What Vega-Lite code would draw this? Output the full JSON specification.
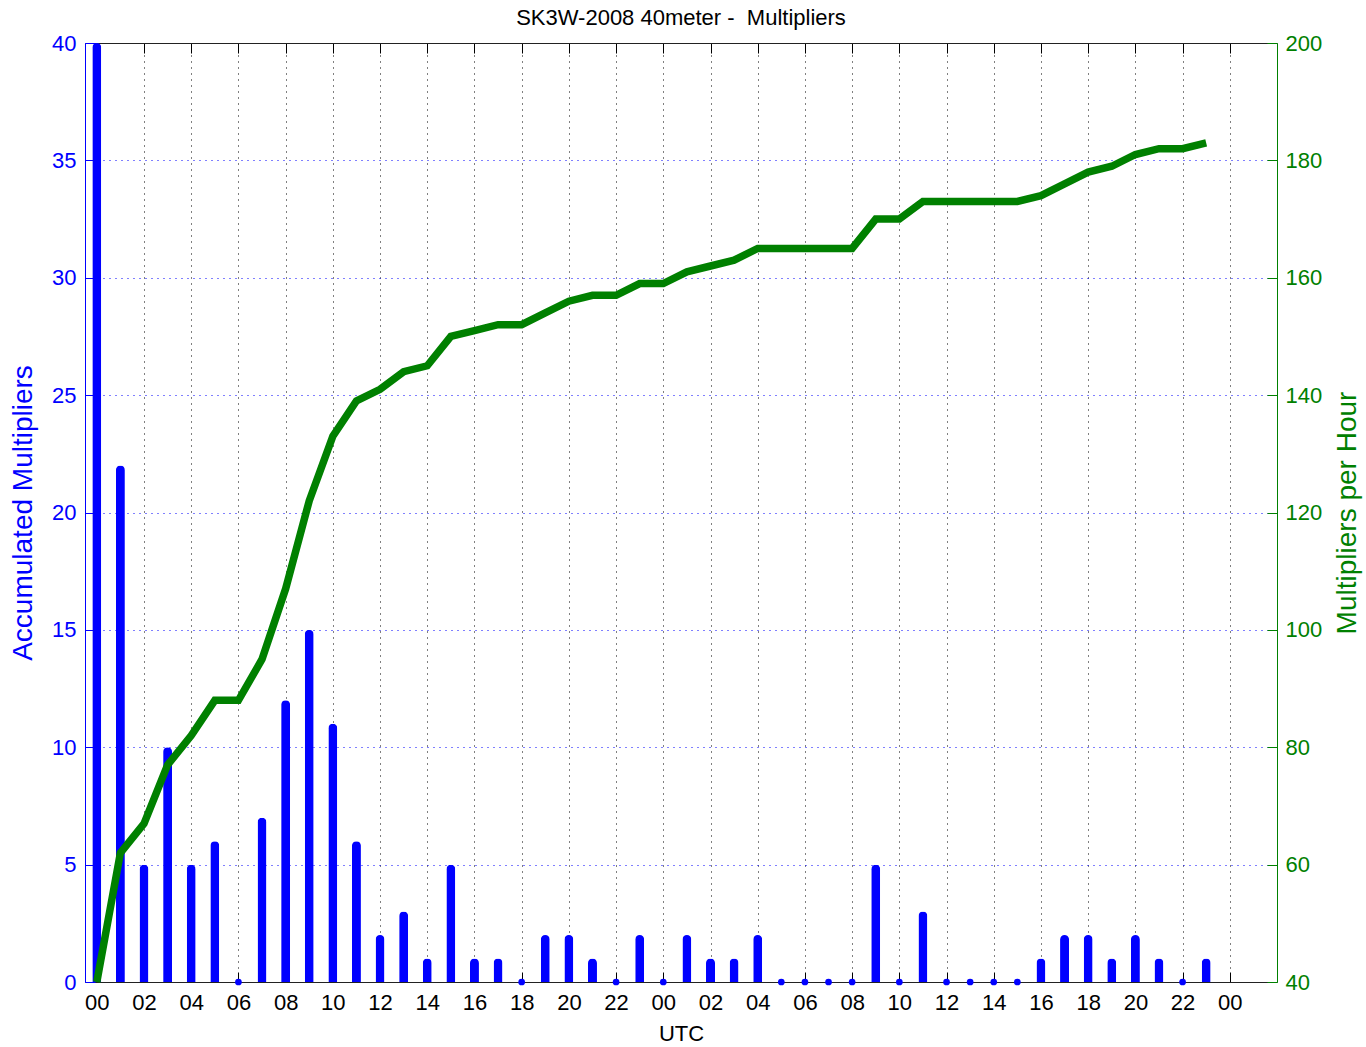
{
  "$schema": "https://vega.github.io/schema/vega-lite/v6.json",
  "width": 1192,
  "height": 939,
  "autosize": {"type": "none"},
  "padding": {"left": 85, "top": 43, "right": 89, "bottom": 65},
  "background": "white",
  "title": {"text": "SK3W-2008 40meter -\u00a0 Multipliers", "fontSize": 22, "font": "Liberation Sans", "fontWeight": "normal", "color": "black", "offset": 2, "anchor": "middle"},
  "config": {"view": {"stroke": null}, "font": "Liberation Sans"},
  "data": {"values": [
    {"h": 0, "m": 40, "acc": 40}, {"h": 1, "m": 22, "acc": 62}, {"h": 2, "m": 5, "acc": 67}, {"h": 3, "m": 10, "acc": 77},
    {"h": 4, "m": 5, "acc": 82}, {"h": 5, "m": 6, "acc": 88}, {"h": 6, "m": 0, "acc": 88}, {"h": 7, "m": 7, "acc": 95},
    {"h": 8, "m": 12, "acc": 107}, {"h": 9, "m": 15, "acc": 122}, {"h": 10, "m": 11, "acc": 133}, {"h": 11, "m": 6, "acc": 139},
    {"h": 12, "m": 2, "acc": 141}, {"h": 13, "m": 3, "acc": 144}, {"h": 14, "m": 1, "acc": 145}, {"h": 15, "m": 5, "acc": 150},
    {"h": 16, "m": 1, "acc": 151}, {"h": 17, "m": 1, "acc": 152}, {"h": 18, "m": 0, "acc": 152}, {"h": 19, "m": 2, "acc": 154},
    {"h": 20, "m": 2, "acc": 156}, {"h": 21, "m": 1, "acc": 157}, {"h": 22, "m": 0, "acc": 157}, {"h": 23, "m": 2, "acc": 159},
    {"h": 24, "m": 0, "acc": 159}, {"h": 25, "m": 2, "acc": 161}, {"h": 26, "m": 1, "acc": 162}, {"h": 27, "m": 1, "acc": 163},
    {"h": 28, "m": 2, "acc": 165}, {"h": 29, "m": 0, "acc": 165}, {"h": 30, "m": 0, "acc": 165}, {"h": 31, "m": 0, "acc": 165},
    {"h": 32, "m": 0, "acc": 165}, {"h": 33, "m": 5, "acc": 170}, {"h": 34, "m": 0, "acc": 170}, {"h": 35, "m": 3, "acc": 173},
    {"h": 36, "m": 0, "acc": 173}, {"h": 37, "m": 0, "acc": 173}, {"h": 38, "m": 0, "acc": 173}, {"h": 39, "m": 0, "acc": 173},
    {"h": 40, "m": 1, "acc": 174}, {"h": 41, "m": 2, "acc": 176}, {"h": 42, "m": 2, "acc": 178}, {"h": 43, "m": 1, "acc": 179},
    {"h": 44, "m": 2, "acc": 181}, {"h": 45, "m": 1, "acc": 182}, {"h": 46, "m": 0, "acc": 182}, {"h": 47, "m": 1, "acc": 183}
  ]},
  "layer": [
    {
      "layer": [
        {
          "mark": {"type": "bar", "width": 9, "color": "#0000ff", "cornerRadiusTopLeft": 4.5, "cornerRadiusTopRight": 4.5},
          "encoding": {
            "x": {"field": "h", "type": "quantitative", "scale": {"domain": [-0.5, 50], "nice": false, "zero": false, "padding": 0},
              "axis": {"orient": "bottom", "values": [0,2,4,6,8,10,12,14,16,18,20,22,24,26,28,30,32,34,36,38,40,42,44,46,48],
                "labelExpr": "(datum.value % 24 < 10 ? '0' : '') + (datum.value % 24)",
                "title": "UTC", "titleFontSize": 22, "titleFontWeight": "normal", "titleColor": "black", "titlePadding": 10,
                "labelFontSize": 22, "labelColor": "black", "labelPadding": 20, "labelFlush": false,
                "tickSize": -10, "tickColor": "black", "domainColor": "#222222",
                "grid": true, "gridColor": "black", "gridDash": [1, 5], "gridOpacity": 1}},
            "y": {"field": "m", "type": "quantitative", "scale": {"domain": [0, 40], "nice": false},
              "axis": {"orient": "left", "values": [0,5,10,15,20,25,30,35,40],
                "title": "Accumulated Multipliers", "titleFontSize": 28, "titleFontWeight": "normal", "titleColor": "#0000ff", "titlePadding": 14,
                "labelFontSize": 22, "labelColor": "#0000ff", "labelPadding": 19, "labelFlush": false,
                "tickSize": -10, "tickColor": "#0000ff", "domainColor": "#0000ff",
                "grid": true, "gridColor": "#0000ff", "gridDash": [1, 5], "gridOpacity": 1}}
          }
        },
        {
          "transform": [{"filter": "datum.m == 0"}],
          "mark": {"type": "point", "filled": true, "size": 45, "color": "#0000ff", "opacity": 1},
          "encoding": {
            "x": {"field": "h", "type": "quantitative"},
            "y": {"field": "m", "type": "quantitative"}
          }
        }
      ]
    },
    {
      "mark": {"type": "line", "color": "#008000", "strokeWidth": 7.5},
      "encoding": {
        "x": {"field": "h", "type": "quantitative",
          "axis": {"orient": "top", "values": [0,2,4,6,8,10,12,14,16,18,20,22,24,26,28,30,32,34,36,38,40,42,44,46,48],
            "labels": false, "title": null, "tickSize": -10, "tickColor": "black", "domainColor": "#222222", "grid": false}},
        "y": {"field": "acc", "type": "quantitative", "scale": {"domain": [40, 200], "nice": false},
          "axis": {"orient": "right", "values": [40,60,80,100,120,140,160,180,200],
            "title": "Multipliers per Hour", "titleFontSize": 28, "titleFontWeight": "normal", "titleColor": "#008000",
            "titleAngle": 270, "titleBaseline": "top", "titlePadding": 12,
            "labelFontSize": 22, "labelColor": "#008000", "labelPadding": 18, "labelFlush": false,
            "tickSize": -10, "tickColor": "#008000", "domainColor": "#008000", "grid": false}}
      }
    }
  ],
  "resolve": {"scale": {"y": "independent"}, "axis": {"x": "independent"}}
}
